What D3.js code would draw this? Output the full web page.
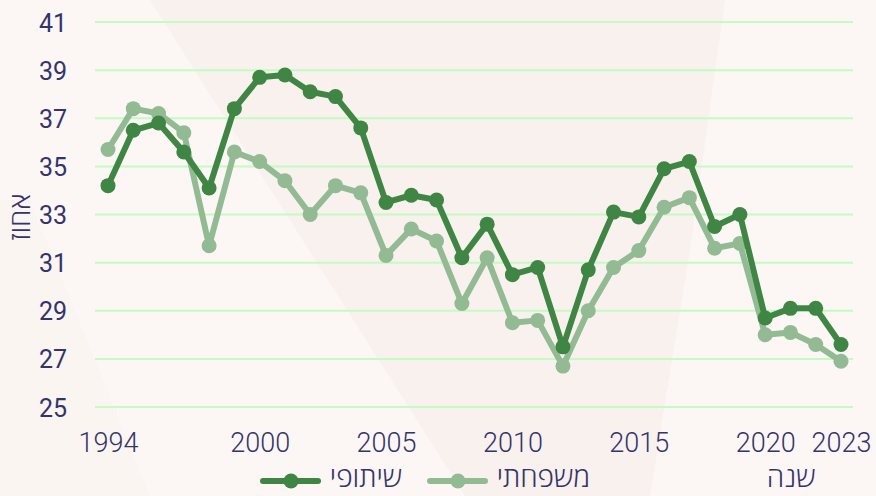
<!DOCTYPE html>
<html><head><meta charset="utf-8">
<script src="https://cdn.jsdelivr.net/npm/d3@7"></script>
<style>html,body{margin:0;padding:0;background:#fcf7f5;}svg{display:block;}</style>
</head><body>
<svg id="c" width="876" height="496"></svg>
<script>
const years = d3.range(1994, 2024);
const cooperative = [34.2,36.5,36.8,35.6,34.1,37.4,38.7,38.8,38.1,37.9,36.6,33.5,33.8,33.6,31.2,32.6,30.5,30.8,27.5,30.7,33.1,32.9,34.9,35.2,32.5,33.0,28.7,29.1,29.1,27.6];
const family = [35.7,37.4,37.2,36.4,31.7,35.6,35.2,34.4,33.0,34.2,33.9,31.3,32.4,31.9,29.3,31.2,28.5,28.6,26.7,29.0,30.8,31.5,33.3,33.7,31.6,31.8,28.0,28.1,27.6,26.9];
const seriesNames = ["שיתופי","משפחתי"];
const yTicks = [25,27,29,31,33,35,37,39,41];
const xTicks = [1994,2000,2005,2010,2015,2020,2023];
const yTitle = "אחוז";
const xTitle = "שנה";

const svg = d3.select("#c");
const W = 876, H = 496;
const colors = ["#3f8644","#93bb93"];
const textColor = "#34346c";
const hebFont = "'Open Sans', 'Noto Sans', 'DejaVu Sans', sans-serif";

// background shapes
svg.append("rect").attr("width",W).attr("height",H).attr("fill","#fcf7f5");
svg.append("path").attr("d","M150,0 L725,0 L690,250 L650,496 L465,496 Z").attr("fill","#f9f1ed");
svg.append("path").attr("d","M0,200 L30,200 L150,496 L0,496 Z").attr("fill","#faf3ef").attr("opacity",0.6);

const x = d3.scaleLinear().domain([1994,2023]).range([108,841]);
const y = d3.scaleLinear().domain([25,41]).range([407,22]);

// grid
svg.append("g").selectAll("line").data(yTicks).join("line")
  .attr("x1",95).attr("x2",853)
  .attr("y1",d=>y(d)).attr("y2",d=>y(d))
  .attr("stroke","#c2fcc2").attr("stroke-width",2);

// y axis labels
const yAxis = d3.axisLeft(y).tickValues(yTicks).tickSize(0).tickPadding(0);
const gy = svg.append("g").attr("transform","translate(67,0)").call(yAxis);
gy.select(".domain").remove();
gy.selectAll("text").attr("font-family","Roboto, sans-serif").attr("font-size",25).attr("font-weight",400)
  .attr("fill",textColor).attr("dy","0.36em");

// x axis labels
const xAxis = d3.axisBottom(x).tickValues(xTicks).tickSize(0).tickPadding(0).tickFormat(d3.format("d"));
const gx = svg.append("g").attr("transform","translate(0,433)").call(xAxis);
gx.select(".domain").remove();
gx.selectAll("text").attr("font-family","Roboto, sans-serif").attr("font-size",27).attr("font-weight",300)
  .attr("fill",textColor).attr("dy","0.7em");

// lines
const data = [cooperative, family];
const line = d3.line().x((d,i)=>x(years[i])).y(d=>y(d));
[1,0].forEach(k=>{
  const g = svg.append("g");
  g.append("path").datum(data[k]).attr("d",line).attr("fill","none")
    .attr("stroke",colors[k]).attr("stroke-width",6).attr("stroke-linejoin","round");
  g.selectAll("circle").data(data[k]).join("circle")
    .attr("cx",(d,i)=>x(years[i])).attr("cy",d=>y(d)).attr("r",7.5).attr("fill",colors[k]);
});

// axis titles
svg.append("text").attr("transform","translate(30,217) rotate(-90)").attr("text-anchor","middle")
  .attr("font-family",hebFont).attr("font-size",28).attr("font-weight",300)
  .attr("fill",textColor).text(yTitle);
svg.append("text").attr("x",791).attr("y",487).attr("text-anchor","middle")
  .attr("font-family",hebFont).attr("font-size",28).attr("font-weight",300)
  .attr("fill",textColor).text(xTitle);

// legend
const legendX = [263, 430];
const legendTextX = [402, 590];
seriesNames.forEach((n,k)=>{
  const g = svg.append("g");
  g.append("line").attr("x1",legendX[k]).attr("x2",legendX[k]+55).attr("y1",481).attr("y2",481)
    .attr("stroke",colors[k]).attr("stroke-width",6).attr("stroke-linecap","round");
  g.append("circle").attr("cx",legendX[k]+28).attr("cy",481).attr("r",7.5).attr("fill",colors[k]);
  g.append("text").attr("x",legendTextX[k]).attr("y",487).attr("text-anchor","end")
    .attr("font-family",hebFont).attr("font-size",28).attr("font-weight",300)
    .attr("fill",textColor).text(n);
});
</script>
</body></html>
